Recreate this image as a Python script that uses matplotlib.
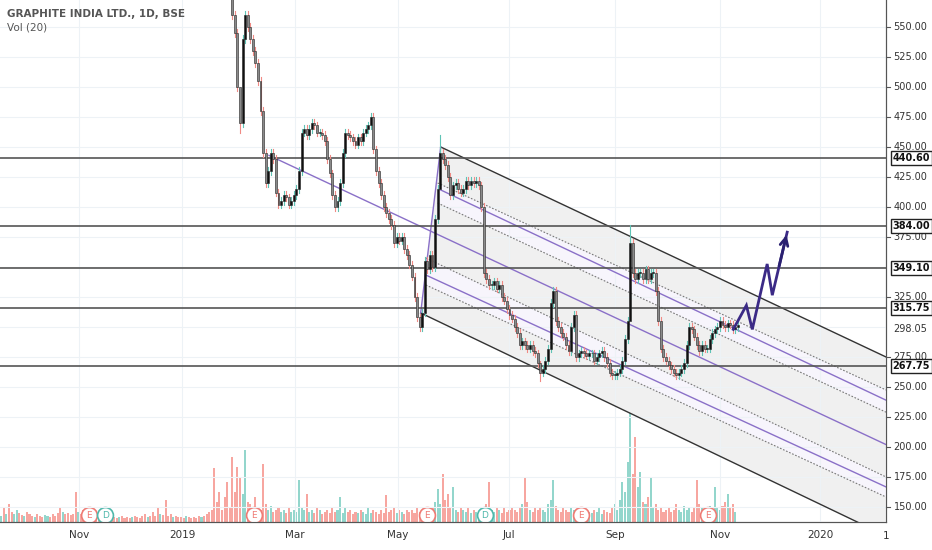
import numpy as np
import matplotlib
matplotlib.use("Agg")
import matplotlib.pyplot as plt
from matplotlib.patches import Rectangle

# daily closes, bar index starts at FIRST_BAR (volume bars start at 0)
FIRST_BAR = 90
closes = [
    560, 545, 500, 470, 540, 560, 550, 540, 530, 520,
    505, 480, 445, 420, 430, 445, 440, 412, 402, 405,
    410, 408, 402, 405, 410, 415, 430, 462, 465, 460,
    465, 470, 468, 462, 462, 460, 455, 440, 428, 410,
    400, 405, 420, 445, 462, 460, 458, 455, 452, 458,
    455, 462, 465, 468, 475, 448, 430, 420, 410, 400,
    395, 390, 385, 370, 375, 372, 375, 365, 360, 352,
    342, 325, 308, 300, 312, 355, 348, 360, 350, 390,
    415, 445, 440, 435, 425, 410, 418, 420, 415, 412,
    415, 422, 418, 422, 420, 422, 418, 400, 345, 340,
    335, 335, 338, 332, 335, 325, 322, 315, 310, 307,
    300, 295, 285, 288, 285, 282, 285, 280, 278, 270,
    262, 265, 272, 282, 320, 330, 305, 300, 295, 292,
    285, 280, 300, 310, 275, 278, 280, 278, 276, 278,
    278, 272, 275, 278, 280, 275, 270, 262, 260, 260,
    262, 265, 272, 290, 305, 370, 345, 340, 345, 345,
    340, 348, 340, 345, 345, 330, 305, 282, 275, 272,
    268, 265, 262, 260, 262, 265, 270, 285, 300, 298,
    292, 285, 280, 285, 282, 282, 290, 295, 298, 300,
    305, 302, 300, 303, 302, 298, 300, 302,
]
first_open = 575
# bars with long wicks: bar -> (high, low)
wick_extra = {93: (472, 462), 171: (460, 420), 245: (385, 308), 210: (272, 255)}

volumes = [
    6, 14, 8, 18, 10, 8, 12, 9, 7, 6, 10, 8, 6, 5, 8, 6, 5, 7, 6, 5,
    8, 6, 9, 14, 10, 8, 9, 7, 8, 30, 10, 8, 12, 9, 7, 10, 8, 6, 5, 4,
    6, 5, 4, 6, 5, 4, 5, 6, 4, 5, 4, 5, 6, 5, 4, 6, 8, 5, 6, 10,
    6, 14, 8, 7, 22, 6, 8, 5, 6, 5, 5, 4, 6, 5, 4, 5, 4, 6, 5, 6,
    8, 10, 12, 54, 20, 30, 12, 25, 40, 14, 65, 30, 55, 45, 28, 72, 20, 18, 15, 25,
    14, 12, 58, 18, 12, 16, 10, 12, 14, 10, 12, 9, 14, 10, 12, 10, 42, 15, 12, 28,
    10, 12, 9, 14, 12, 8, 10, 12, 9, 15, 10, 12, 25, 9, 14, 10, 12, 8, 10, 9,
    12, 10, 8, 14, 9, 12, 10, 8, 12, 9, 27, 10, 12, 14, 9, 12, 10, 8, 12, 10,
    12, 9, 14, 10, 12, 15, 10, 12, 14, 20, 33, 18, 48, 22, 28, 15, 35, 12, 10, 14,
    12, 10, 14, 9, 12, 10, 8, 12, 14, 18, 40, 12, 10, 14, 12, 9, 15, 10, 12, 14,
    12, 10, 14, 18, 45, 20, 12, 10, 14, 12, 15, 12, 10, 18, 22, 42, 16, 12, 10, 14,
    12, 10, 14, 12, 9, 12, 10, 14, 12, 10, 9, 12, 10, 14, 8, 12, 10, 9, 14, 18,
    12, 22, 40, 30, 60, 125, 48, 85, 35, 50, 20, 18, 25, 45, 15, 18, 12, 14, 10, 12,
    14, 10, 12, 18, 12, 10, 16, 12, 14, 10, 14, 42, 18, 14, 12, 10, 16, 12, 35, 14,
    12, 16, 20, 28, 14, 18, 10,
]
pre_colors = ("grgrrggrrgrrrgrrrggrrrrrgrrrrr"
              "grrrrgrrrrgrrrrrgrrrrgrrrrrgrr"
              "rrgrrrrgrrrrgrrrrrgrrrrrrrrrrr")

levels = [440.60, 384.00, 349.10, 315.75, 267.75]
last_price = 298.05
price_ticks = [550, 525, 500, 475, 450, 425, 400, 375, 325, 275, 250, 225, 200, 175, 150]

month_pos = [30.4, 70.4, 114.4, 154.5, 197.7, 239.0, 280.2, 319.1]
month_lab = ["Nov", "2019", "Mar", "May", "Jul", "Sep", "Nov", "2020"]

events_E = [34.2, 98.4, 165.8, 225.7, 275.5]
events_D = [40.5, 188.3]

# drawn tools: ((bar, price), (bar, price))
chan_upper = ((171.2, 450.0), (344.7, 275.0))
chan_lower = ((163.4, 311.7), (344.7, 126.0))
fork_a = [((170.0, 420.0), (344.7, 247.5)), ((171.2, 414.2), (344.7, 239.0)), ((170.0, 403.3), (344.7, 229.0))]
fork_b = [((165.4, 357.5), (344.7, 175.0)), ((165.4, 343.3), (344.7, 166.7)), ((165.4, 335.0), (344.7, 158.3))]
mid_line = ((104.3, 443.0), (344.7, 202.0))
handle = ((163.4, 311.7), (171.2, 450.0))
projection_bar = [285.2, 290.3, 292.6, 298.4, 300.4, 306.2]
projection_px = [298.0, 318.0, 298.0, 352.5, 326.5, 379.0]

UP_BODY, DN_BODY = "#111111", "#8a8a8a"
UP_WICK, DN_WICK = "#5fc3b5", "#f08a84"
VOL_UP, VOL_DN = "#93d6cc", "#f7a6a0"

fig = plt.figure(figsize=(9.32, 5.5), dpi=100)
ax = fig.add_axes([0, 0.051, 886 / 932, 0.949])
axv = ax.twinx()
axv.set_zorder(0)
ax.set_zorder(1)
ax.patch.set_visible(False)
fig.patch.set_facecolor("white")

# volume
opens = [first_open] + closes[:-1]
vcol = []
for j, v in enumerate(volumes):
    if j < FIRST_BAR:
        up = pre_colors[j] == "g"
    else:
        i = j - FIRST_BAR
        up = closes[i] >= opens[i] if i < len(closes) else True
    vcol.append(VOL_UP if up else VOL_DN)
axv.bar(np.arange(len(volumes)), volumes, width=0.8, color=vcol, zorder=1)
axv.set_ylim(0, 522)
axv.set_yticks([])
for xb in events_E:
    axv.scatter([xb], [6.5], s=130, facecolor="white", edgecolor="#ef7b74", lw=1.2, zorder=3)
    axv.text(xb, 6.5, "E", color="#ef7b74", fontsize=6.5, ha="center", va="center", zorder=4)
for xb in events_D:
    axv.scatter([xb], [6.5], s=130, facecolor="white", edgecolor="#4fb8ab", lw=1.2, zorder=3)
    axv.text(xb, 6.5, "D", color="#4fb8ab", fontsize=6.5, ha="center", va="center", zorder=4)

# channel fill and lines
def seg(l, **kw):
    ax.plot([l[0][0], l[1][0]], [l[0][1], l[1][1]], **kw)

(ux0, uy0), (ux1, uy1) = chan_upper
(lx0, ly0), (lx1, ly1) = chan_lower
ax.fill([ux0, ux1, lx1, lx0], [uy0, uy1, ly1, ly0], color="#f0f0f0", zorder=1, lw=0)
for grp in (fork_a, fork_b):
    (a0, a1), (c0, c1) = grp[0], grp[2]
    ax.fill([a0[0], a1[0], c1[0], c0[0]], [a0[1], a1[1], c1[1], c0[1]], color="#f7f5fc", zorder=1, lw=0)
    seg(grp[0], color="#777777", lw=0.8, ls=(0, (1.5, 1.5)), zorder=2)
    seg(grp[1], color="#8a70c8", lw=1.0, zorder=2)
    seg(grp[2], color="#777777", lw=0.8, ls=(0, (1.5, 1.5)), zorder=2)
seg(chan_upper, color="#333333", lw=1.0, zorder=2)
seg(chan_lower, color="#333333", lw=1.0, zorder=2)
seg(mid_line, color="#8a70c8", lw=1.0, zorder=2)
seg(handle, color="#8a70c8", lw=1.0, zorder=2)

for lv in levels:
    ax.axhline(lv, color="#555555", lw=1.2, zorder=2)

# candles
for i, c in enumerate(closes):
    b = FIRST_BAR + i
    o = opens[i]
    hi, lo = wick_extra.get(b, (max(o, c) + 3, min(o, c) - 3))
    up = c >= o
    ax.plot([b, b], [lo, hi], color=UP_WICK if up else DN_WICK, lw=0.8, zorder=3)
    ax.add_patch(Rectangle((b - 0.38, min(o, c)), 0.76, max(abs(c - o), 0.6),
                           facecolor=UP_BODY if up else DN_BODY,
                           edgecolor="#222222", lw=0.4, zorder=4))

# projection arrow
ax.plot(projection_bar, projection_px, color="#3b2a86", lw=2, zorder=5, solid_joinstyle="miter")
ax.annotate("", xy=(projection_bar[-1], projection_px[-1]), xytext=(projection_bar[-2] + 2.4, projection_px[-2] + 22),
            arrowprops=dict(arrowstyle="->", color="#2a2070", lw=2, mutation_scale=14), zorder=5)

ax.set_xlim(-0.5, 344.7)
ax.set_ylim(137.5, 572.5)
axv.set_xlim(-0.5, 344.7)
ax.set_yticks(list(range(150, 575, 25)))
ax.yaxis.set_ticklabels([])
ax.tick_params(axis="y", length=0)
ax.set_xticks(month_pos)
ax.set_xticklabels(month_lab, fontsize=7.5, color="#333333")
ax.tick_params(axis="x", length=0, pad=6)
ax.grid(True, color="#edf2f6", lw=0.8, zorder=0)
axv.grid(False)
for s in ["top", "left"]:
    ax.spines[s].set_visible(False)
    axv.spines[s].set_visible(False)
for a in (ax, axv):
    a.spines["right"].set_color("#555555")
    a.spines["bottom"].set_color("#555555")

LX = 1.0085
def ylab(p):
    return (p - 137.5) / 435

for p in price_ticks:
    ax.plot([1.0, 1.005], [ylab(p)] * 2, transform=ax.transAxes, color="#555555", lw=0.8, clip_on=False)
    ax.text(LX, ylab(p), f"{p:.2f}", transform=ax.transAxes, fontsize=7,
            color="#333333", va="center", ha="left")
ax.text(LX, ylab(last_price), f"{last_price:.2f}", transform=ax.transAxes,
        fontsize=7, color="#333333", va="center", ha="left",
        bbox=dict(facecolor="white", edgecolor="none", pad=1))
for lv in levels:
    ax.text(LX - 0.001, ylab(lv), f"{lv:.2f}", transform=ax.transAxes, fontsize=7,
            color="#111111", va="center", ha="left", fontweight="bold",
            bbox=dict(facecolor="white", edgecolor="#222222", lw=1, pad=1.5))
ax.text(1.0, -0.018, "1", transform=ax.transAxes, fontsize=7.5, color="#333333", ha="center", va="top")

fig.text(7 / 932, 1 - 14 / 550, "GRAPHITE INDIA LTD., 1D, BSE", fontsize=7.5, color="#555555",
         fontweight="bold", va="center")
fig.text(7 / 932, 1 - 28 / 550, "Vol (20)", fontsize=7.5, color="#555555", va="center")

fig.savefig("out.png", dpi=100)
